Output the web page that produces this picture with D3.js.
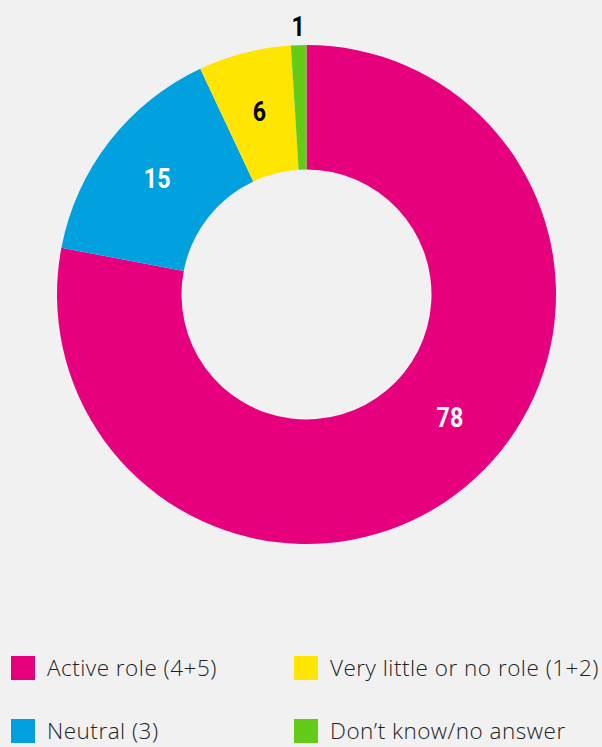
<!DOCTYPE html>
<html><head><meta charset="utf-8">
<script src="https://cdn.jsdelivr.net/npm/d3@7"></script>
<style>
html,body{margin:0;padding:0;background:#f1f1f1;}
svg{display:block;}
</style></head>
<body>
<script>
const categories = ["Active role (4+5)", "Neutral (3)", "Very little or no role (1+2)", "Don\u2019t know/no answer"];
const values = [78, 15, 6, 1];
const colors = ["#e6007e", "#00a1de", "#ffe500", "#64cc19"];
const labelColors = ["#ffffff", "#ffffff", "#000000", "#000000"];
const legendOrder = [0, 2, 1, 3];

const W = 602, H = 747;
const cx = 306.5, cy = 294.5, R = 249.5, r = 125;

const svg = d3.select("body").append("svg").attr("width", W).attr("height", H);
svg.append("rect").attr("width", W).attr("height", H).attr("fill", "#f1f1f1");

const pie = d3.pie().sort(null).value(d => d)(values);
const arc = d3.arc().innerRadius(r).outerRadius(R);
const g = svg.append("g").attr("transform", `translate(${cx},${cy})`);

g.selectAll("path").data(pie).join("path")
  .attr("d", arc)
  .attr("fill", (d, i) => colors[i]);

// label placement: inside the ring, or outside for tiny slices
const labelArc = d3.arc().innerRadius(189).outerRadius(189);
const outerLabelArc = d3.arc().innerRadius(268).outerRadius(268);
g.selectAll("text.lbl").data(pie).join("text")
  .attr("class", "lbl")
  .attr("transform", (d, i) => {
    let dd = d;
    if (i === 0) { // biggest slice label sits a little before its middle
      const shift = 0.17;
      dd = {startAngle: d.startAngle - shift, endAngle: d.endAngle - shift};
    }
    const c = (d.endAngle - d.startAngle) < 0.1 ? outerLabelArc.centroid(dd) : labelArc.centroid(dd);
    return `translate(${c[0]},${c[1]}) scale(0.86,1)`;
  })
  .attr("text-anchor", "middle")
  .attr("dy", "0.36em")
  .attr("font-family", "Roboto, sans-serif")
  .attr("font-weight", "bold")
  .attr("font-size", 27)
  .attr("fill", (d, i) => labelColors[i])
  .text(d => d.data);

// legend
const legX = [11, 294], legY = [656, 719];
const leg = svg.append("g");
legendOrder.forEach((ci, k) => {
  const col = k % 2, row = Math.floor(k / 2);
  const x = legX[col], y = legY[row];
  leg.append("rect").attr("x", x).attr("y", y).attr("width", 24).attr("height", 24).attr("fill", colors[ci]);
  leg.append("text").attr("x", x + 36).attr("y", y + 20)
    .attr("font-family", "'Open Sans', Roboto, sans-serif")
    .attr("font-weight", 300)
    .attr("font-size", 22.5)
    .attr("letter-spacing", 0.5)
    .attr("fill", "#222")
    .text(categories[ci]);
});
</script>
</body></html>
